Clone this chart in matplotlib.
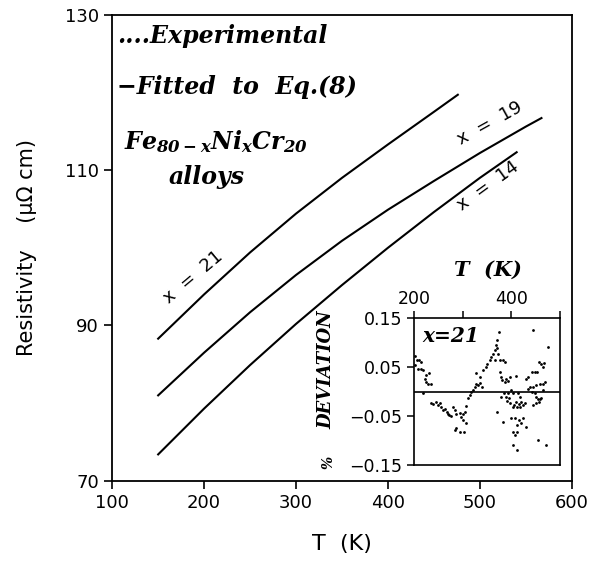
import matplotlib
matplotlib.use("Agg")
import matplotlib.pyplot as plt

# resistivity curves (T in K, rho in micro-ohm cm)
t_x21 = [150, 200, 250, 300, 350, 400, 450, 476]
rho_x21 = [88.3, 94.0, 99.4, 104.4, 109.0, 113.3, 117.5, 119.7]
t_x19 = [150, 200, 250, 300, 350, 400, 450, 500, 550, 567]
rho_x19 = [81.0, 86.5, 91.7, 96.5, 100.9, 104.9, 108.6, 112.2, 115.6, 116.7]
t_x14 = [150, 200, 250, 300, 350, 400, 450, 500, 540]
rho_x14 = [73.4, 79.3, 84.9, 90.2, 95.2, 100.0, 104.6, 109.0, 112.3]

# deviation of x=21 data from the fit (inset)
dev_t = [203, 206, 210, 215, 203, 208, 215, 219, 225, 231, 222, 225, 229, 236, 219,
         236, 239, 245, 249, 253, 256, 260, 263, 267, 270, 273, 277, 280, 284, 287,
         294, 297, 301, 304, 301, 284, 287, 294, 302, 308, 306,
         311, 315, 318, 322, 325, 328, 332, 335, 339, 328, 335, 342, 348, 350, 356,
         359, 363, 366, 368, 370, 373, 371, 374, 366, 376, 383, 387,
         370, 376, 378, 382, 387, 390, 394, 397, 409, 385, 389, 392, 396, 398, 403,
         405, 409, 412, 416, 419, 421, 424, 428, 383, 400, 407, 411, 416, 421, 424,
         431, 403, 407, 411, 404, 412, 380, 394, 400, 404, 414, 418,
         431, 435, 442, 449, 453, 457, 462, 467, 466, 469, 466, 459, 452, 445, 438,
         435, 442, 449, 452, 455, 459, 462, 457, 451, 445, 455, 471, 475, 445, 466]
dev_val = [0.072, 0.064, 0.064, 0.060, 0.054, 0.047, 0.045, 0.043, 0.033, 0.038,
           0.026, 0.020, 0.015, 0.015, -0.004,
           -0.024, -0.026, -0.021, -0.028, -0.023, -0.031, -0.037, -0.035, -0.041,
           -0.045, -0.048, -0.050, -0.031, -0.038, -0.045, -0.043, -0.052, -0.046,
           -0.041, -0.058, -0.079, -0.075, -0.082, -0.082, -0.065, -0.030,
           -0.014, -0.007, -0.001, 0.003, 0.010, 0.016, 0.013, 0.018, 0.010, 0.037,
           0.030, 0.043, 0.050, 0.057, 0.064, 0.071, 0.077, 0.084, 0.094, 0.088,
           0.077, 0.105, 0.122, 0.064, 0.064, 0.064, 0.060,
           -0.041, 0.040, 0.030, 0.023, 0.020, 0.026, 0.022, 0.030, 0.031, -0.004,
           -0.011, -0.019, -0.014, -0.024, -0.031, -0.028, -0.021, -0.031, -0.026,
           -0.031, -0.021, -0.028, -0.023, -0.062, -0.055, -0.055, -0.069, -0.058,
           -0.065, -0.055, -0.072, -0.082, -0.089, -0.082, -0.109, -0.120, -0.011,
           -0.004, 0.003, -0.004, -0.004, -0.011,
           0.026, 0.030, 0.040, 0.040, 0.040, 0.060, 0.057, 0.058, 0.050, 0.020,
           0.016, 0.016, 0.013, 0.010, 0.010, 0.006, -0.001, -0.004, -0.011, -0.016,
           -0.016, -0.014, -0.021, -0.023, -0.028, -0.099, -0.109, 0.090, 0.125, 0.003]

main_xticks = [100, 200, 300, 400, 500, 600]
main_yticks = [70, 90, 110, 130]
inset_xticks = [200, 300, 400, 500]
inset_xlabels = ["200", "", "400", ""]
inset_yticks = [0.15, 0.05, -0.05, -0.15]

serif_bi = dict(family="DejaVu Serif", weight="bold", style="italic")

plt.rcParams["font.family"] = "DejaVu Sans"
plt.rcParams["mathtext.fontset"] = "custom"
plt.rcParams["mathtext.it"] = "DejaVu Serif:italic:bold"
plt.rcParams["mathtext.rm"] = "DejaVu Serif:italic:bold"

fig = plt.figure(figsize=(6, 5.67), dpi=100)
ax = fig.add_axes([0.187, 0.152, 0.766, 0.822])

for t, r in [(t_x21, rho_x21), (t_x19, rho_x19), (t_x14, rho_x14)]:
    ax.plot(t, r, color="black", lw=1.5)

ax.set_xlim(100, 600)
ax.set_ylim(70, 130)
ax.set_xticks(main_xticks)
ax.set_yticks(main_yticks)
ax.tick_params(direction="out", length=6, width=1.2, labelsize=13)
for s in ax.spines.values():
    s.set_linewidth(1.3)
ax.set_xlabel("T  (K)", fontsize=16, labelpad=16)
ax.set_ylabel("Resistivity    (\u03bc\u03a9 cm)", fontsize=15)
ax.yaxis.set_label_coords(-0.163, 0.5)

ax.text(0.010, 0.955, "....Experimental", transform=ax.transAxes, fontsize=17,
        va="center", ha="left", **serif_bi)
ax.text(0.010, 0.845, "\u2212Fitted  to  Eq.(8)", transform=ax.transAxes, fontsize=17,
        va="center", ha="left", **serif_bi)
ax.text(0.026, 0.728, r"$Fe_{80-x}Ni_{x}Cr_{20}$", transform=ax.transAxes,
        fontsize=17, va="center", ha="left")
ax.text(0.122, 0.652, "alloys", transform=ax.transAxes, fontsize=17,
        va="center", ha="left", **serif_bi)

ax.text(0.176, 0.436, "x  =  21", transform=ax.transAxes, fontsize=13,
        rotation=40, ha="center", va="center")
ax.text(0.822, 0.768, "x  =  19", transform=ax.transAxes, fontsize=13,
        rotation=29, ha="center", va="center")
ax.text(0.817, 0.633, "x  =  14", transform=ax.transAxes, fontsize=13,
        rotation=36, ha="center", va="center")

# inset with deviations
ins = fig.add_axes([0.69, 0.180, 0.243, 0.259])
ins.scatter(dev_t, dev_val, s=4, color="black", linewidths=0)
ins.axhline(0, color="black", lw=1.2)
ins.set_xlim(200, 500)
ins.set_ylim(-0.15, 0.15)
ins.set_xticks(inset_xticks)
ins.set_xticklabels(inset_xlabels)
ins.set_yticks(inset_yticks)
ins.set_yticklabels(["0.15", "0.05", "\u22120.05", "\u22120.15"])
ins.xaxis.tick_top()
ins.tick_params(direction="out", length=5, width=1.1, labelsize=12.5)
ins.tick_params(axis="x", pad=2)
for s in ins.spines.values():
    s.set_linewidth(1.2)
ins.text(0.06, 0.88, "x=21", transform=ins.transAxes, fontsize=14.5,
         va="center", ha="left", **serif_bi)
ins.text(0.51, 1.33, "T  (K)", transform=ins.transAxes, fontsize=15,
         va="center", ha="center", **serif_bi)
ins.text(-0.60, 0.646, "DEVIATION", transform=ins.transAxes, fontsize=13,
         rotation=90, va="center", ha="center", **serif_bi)
ins.text(-0.59, 0.014, "%", transform=ins.transAxes, fontsize=10,
         rotation=90, va="center", ha="center", **serif_bi)

fig.savefig("out.png", dpi=100)
